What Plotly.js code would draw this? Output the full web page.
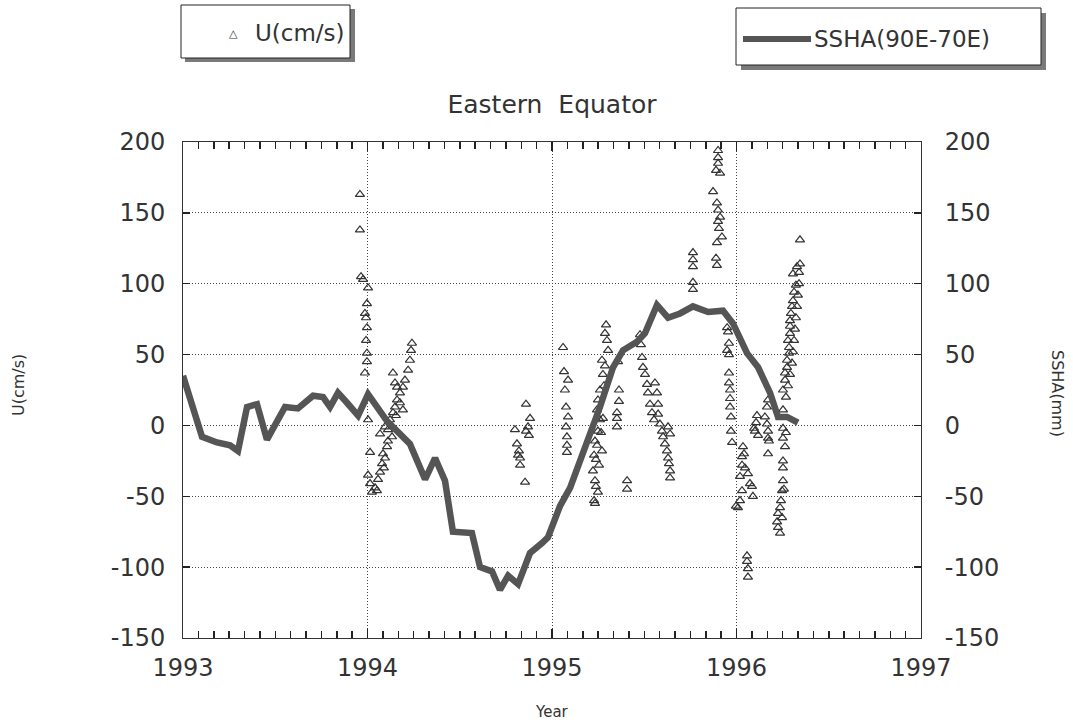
<!DOCTYPE html>
<html>
<head>
<meta charset="utf-8">
<script src="https://cdn.plot.ly/plotly-3.0.1.min.js"></script>
<style>html,body{margin:0;padding:0;background:#fff;}#chart{width:1073px;height:723px;}</style>
</head>
<body>
<div id="chart"></div>
<script>
// SSHA (90E-70E), mm, right axis
const sshaYear = [1993.000,1993.103,1993.184,1993.255,1993.298,1993.347,1993.401,1993.455,1993.553,1993.623,1993.705,1993.759,1993.797,1993.840,1993.889,1993.949,1994.003,1994.106,1994.230,1994.312,1994.366,1994.420,1994.463,1994.566,1994.610,1994.675,1994.718,1994.762,1994.816,1994.881,1994.946,1994.978,1995.043,1995.098,1995.152,1995.195,1995.260,1995.331,1995.385,1995.461,1995.504,1995.569,1995.629,1995.694,1995.764,1995.846,1995.927,1995.981,1996.057,1996.117,1996.182,1996.225,1996.274,1996.333];
const sshaMM = [35,-8,-12,-14,-18,13,15,-10,13,12,21,20,13,23,16,7,22,3,-13,-38,-23,-39,-75,-76,-100,-103,-116,-106,-112,-90,-83,-79,-57,-44,-25,-11,13,41,53,59,65,85,76,79,84,80,81,72,51,41,23,6,6,2];

// U (cm/s), left axis
const uYear = [
1993.959,1993.959,1993.965,1993.976,1994.003,1993.997,1993.986,1993.992,1993.997,1993.992,1993.997,1993.997,1993.986,1994.003,1994.014,1994.003,1994.014,1994.024,1994.041,1994.051,1994.057,1994.068,1994.079,1994.084,1994.095,1994.106,1994.111,1994.068,1994.095,1994.122,1994.138,1994.149,1994.160,1994.176,1994.192,1994.203,1994.220,1994.230,1994.236,1994.241,1994.138,1994.149,1994.160,1994.176,1994.192,1994.154,1994.111,1994.133,1994.089,
1994.859,1994.881,1994.870,1994.875,1994.859,1994.799,1994.810,1994.816,1994.827,1994.827,1994.821,1994.854,
1995.060,1995.065,1995.087,1995.070,1995.076,1995.087,1995.076,1995.081,1995.081,1995.081,
1995.293,1995.287,1995.298,1995.304,1995.271,1995.276,1995.260,1995.249,1995.244,1995.260,1995.249,1995.233,1995.244,1995.228,1995.238,1995.222,1995.233,1995.238,1995.228,1995.233,1995.266,1995.255,1995.276,1995.287,1995.282,1995.271,1995.249,
1995.358,1995.363,1995.363,1995.352,1995.352,1995.352,1995.407,1995.407,
1995.477,1995.482,1995.488,1995.493,1995.504,1995.515,1995.520,1995.531,1995.542,1995.553,1995.558,1995.569,1995.575,1995.575,1995.585,1995.596,1995.602,1995.612,1995.623,1995.629,1995.634,1995.640,1995.640,1995.629,1995.640,
1995.764,1995.764,1995.764,1995.764,1995.764,
1995.900,1995.900,1995.900,1995.889,1995.911,1995.873,1995.894,1995.900,1995.911,1995.900,1995.905,1995.921,1995.894,1995.889,1995.894,
1995.949,1995.954,1995.959,1995.949,1995.959,1995.959,1995.959,1995.965,1995.965,1995.965,1995.970,1995.970,1995.976,
1996.035,1996.030,1996.030,1996.046,1996.062,1996.019,1996.030,1996.019,1996.008,1996.084,1996.089,1995.997,1996.057,1996.057,1996.062,1996.062,1996.041,1996.073,
1996.111,1996.106,1996.100,1996.117,1996.095,
1996.171,1996.165,1996.154,1996.165,1996.171,1996.171,1996.171,1996.176,
1996.225,1996.220,1996.225,1996.236,1996.241,1996.247,1996.252,1996.252,1996.252,1996.252,1996.252,1996.252,1996.252,1996.263,1996.263,1996.274,1996.274,1996.285,1996.285,1996.279,1996.290,1996.290,1996.290,1996.295,1996.301,1996.306,1996.312,1996.322,1996.306,1996.328,1996.344,1996.268,1996.279,1996.290,1996.301,1996.306,1996.312,1996.317,1996.322,1996.328,1996.333,1996.339,1996.339,1996.344,1996.268,1996.263,1996.257,1996.247,1996.236
];
const uCms = [
163,138,105,103,97,86,79,76,69,60,51,45,37,4,-19,-35,-41,-47,-44,-46,-38,-33,-27,-20,-23,-15,-11,-6,-1,4,9,13,18,23,27,32,39,46,53,58,37,30,27,16,11,7,-3,-8,-30,
15,5,-1,-7,-4,-3,-13,-21,-23,-28,-18,-40,
55,38,32,25,13,6,-1,-8,-14,-19,
71,65,60,53,46,36,25,18,11,4,-4,-11,-14,-21,-24,-32,-39,-43,-53,-55,-5,-28,5,42,28,-18,-47,
45,25,17,9,5,-1,-39,-45,
64,57,48,41,36,29,23,15,9,4,30,23,15,8,1,-4,-8,-13,-18,-23,-27,-32,-37,-1,-6,
122,117,112,101,96,
194,189,185,180,178,165,157,152,147,144,139,133,129,118,113,
69,66,58,53,50,37,30,25,19,13,6,-4,-12,
-15,-22,-28,-30,-34,-36,-46,-53,-58,-43,-50,-57,-92,-96,-101,-107,-20,-41,
7,2,-4,-7,-2,
18,13,6,1,-4,-9,-20,-11,
-72,-68,-62,-58,-53,-46,-39,-30,-25,-9,-2,11,25,32,37,41,46,51,55,60,65,70,74,79,84,88,94,99,107,112,131,20,28,36,44,52,60,68,76,84,92,100,108,114,-5,-15,-45,-65,-76
];

const xYears = [1993, 1997];
const yTickVals = [-150,-100,-50,0,50,100,150,200];
const yTickText = ['-150','-100','-50','0','50','100','150','200'];

const FONT = 'DejaVu Sans, Verdana, sans-serif';
const INK = '#333333';
const TICK = '#222222';

const traces = [
  {
    x: sshaYear, y: sshaMM, xaxis: 'x2', yaxis: 'y2', type: 'scatter', mode: 'lines',
    name: 'SSHA(90E-70E)',
    line: {color: '#555555', width: 6.5},
    showlegend: false
  },
  {
    x: uYear, y: uCms, xaxis: 'x', yaxis: 'y', type: 'scatter', mode: 'markers',
    name: 'U(cm/s)',
    marker: {symbol: 'triangle-up-open', size: 8, color: '#333333', line: {width: 1.2, color: '#333333'}},
    showlegend: false
  }
];

const L = 183, R = 921, T = 142, B = 638;
const px = v => (v - L) / (R - L);
const py = v => (B - v) / (B - T);

const shapes = [
  {type:'rect', xref:'paper', yref:'paper', x0:px(185), x1:px(355), y0:py(62), y1:py(9), fillcolor:'#7a7a7a', line:{width:0}, layer:'above'},
  {type:'rect', xref:'paper', yref:'paper', x0:px(181), x1:px(350), y0:py(58), y1:py(5), fillcolor:'#ffffff', line:{width:1, color:'#222'}, layer:'above'},
  {type:'rect', xref:'paper', yref:'paper', x0:px(741), x1:px(1046), y0:py(70), y1:py(13), fillcolor:'#7a7a7a', line:{width:0}, layer:'above'},
  {type:'rect', xref:'paper', yref:'paper', x0:px(736), x1:px(1041), y0:py(65), y1:py(8), fillcolor:'#ffffff', line:{width:1, color:'#222'}, layer:'above'},
  {type:'line', xref:'paper', yref:'paper', x0:px(743), x1:px(811), y0:py(39), y1:py(39), line:{color:'#555555', width:6}, layer:'above'}
];

const annotations = [
  {xref:'paper', yref:'paper', x:px(233), y:py(33), text:'△', showarrow:false, xanchor:'center', yanchor:'middle', font:{family:FONT, size:11, color:INK}},
  {xref:'paper', yref:'paper', x:px(253), y:py(33), text:'U(cm/s)', showarrow:false, xanchor:'left', yanchor:'middle', font:{family:FONT, size:23, color:INK}},
  {xref:'paper', yref:'paper', x:px(812), y:py(39), text:'SSHA(90E-70E)', showarrow:false, xanchor:'left', yanchor:'middle', font:{family:FONT, size:23, color:INK}},
  {xref:'paper', yref:'paper', x:px(1058), y:py(393), text:'SSHA(mm)', textangle:90, showarrow:false, xanchor:'center', yanchor:'middle', font:{family:FONT, size:16, color:INK}},
  {xref:'paper', yref:'paper', x:px(18), y:py(385), text:'U(cm/s)', textangle:-90, showarrow:false, xanchor:'center', yanchor:'middle', font:{family:FONT, size:16, color:INK}},
  {xref:'paper', yref:'paper', x:0.5, y:py(712), text:'Year', showarrow:false, xanchor:'center', yanchor:'middle', font:{family:FONT, size:15, color:INK}}
];

const layout = {
  width: 1073, height: 723,
  margin: {l: L, r: 1073 - R, t: T, b: 723 - B, pad: 0},
  font: {family: FONT, color: INK},
  title: {text: 'Eastern  Equator', x: 0.5, xref: 'paper', xanchor: 'center', y: 1 - 104 / 723, yanchor: 'middle', font: {family: FONT, size: 25, color: INK}},
  showlegend: false,
  xaxis: {
    range: xYears, tickmode: 'linear', tick0: 1993, dtick: 1,
    ticks: 'inside', ticklen: 9, tickcolor: TICK, tickwidth: 1.5,
    showline: true, linecolor: INK, mirror: 'ticks',
    showgrid: true, gridcolor: '#444444', gridwidth: 1, griddash: '1px,2px',
    zeroline: false, tickfont: {family: FONT, size: 24, color: INK},
    ticklabelstandoff: 8
  },
  // monthly tick marks (bottom, mirrored to top) on the axis used by the SSHA line
  xaxis2: {
    overlaying: 'x', anchor: 'y2', side: 'bottom',
    range: xYears, tickmode: 'linear', tick0: 1993, dtick: 1/12,
    ticks: 'inside', ticklen: 7, tickcolor: TICK, tickwidth: 1.5,
    showticklabels: false, showgrid: false, zeroline: false,
    showline: true, linecolor: INK, mirror: 'ticks'
  },
  yaxis: {
    range: [-150, 200], tickmode: 'array', tickvals: yTickVals, ticktext: yTickText,
    ticks: 'inside', ticklen: 7, tickcolor: TICK, tickwidth: 1.5,
    showline: true, linecolor: INK,
    showgrid: true, gridcolor: '#444444', gridwidth: 1, griddash: '1px,2px',
    zeroline: false, tickfont: {family: FONT, size: 24, color: INK},
    ticklabelstandoff: 12
  },
  yaxis2: {
    range: [-150, 200], overlaying: 'y', side: 'right', anchor: 'x', tickmode: 'array', tickvals: yTickVals, ticktext: yTickText,
    ticks: 'inside', ticklen: 7, tickcolor: TICK, tickwidth: 1.5,
    showline: true, linecolor: INK,
    showgrid: false, zeroline: false, tickfont: {family: FONT, size: 24, color: INK},
    ticklabelstandoff: 18
  },
  shapes: shapes,
  annotations: annotations
};

Plotly.newPlot('chart', traces, layout, {displayModeBar: false, staticPlot: true});
</script>
</body>
</html>
